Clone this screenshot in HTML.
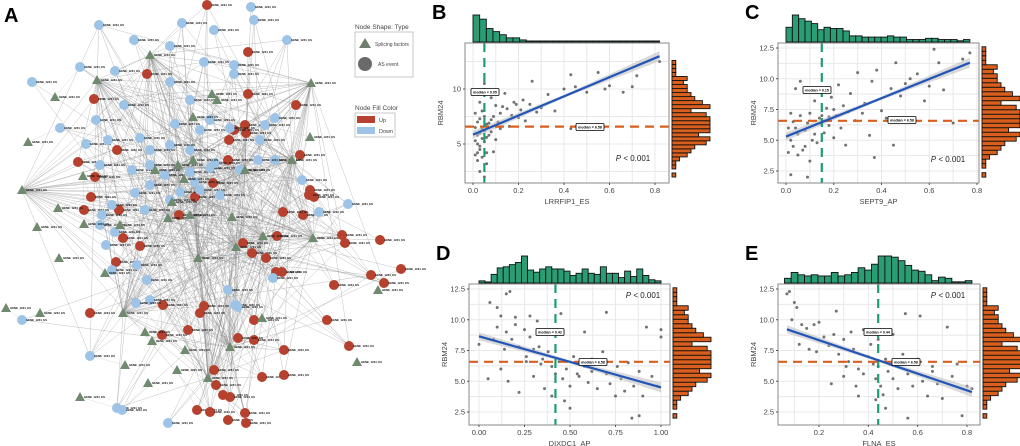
<!DOCTYPE html>
<html><head><meta charset="utf-8">
<style>
html,body{margin:0;padding:0;background:#fff;}
svg{display:block;font-family:"Liberation Sans",Arial,sans-serif;}
</style></head>
<body>
<svg id="fig" width="1020" height="446" viewBox="0 0 1020 446" xmlns="http://www.w3.org/2000/svg">
<g id="net"></g>
<g id="legend">
  <text x="4" y="22" font-size="20" font-weight="bold">A</text>
  <text x="355" y="29" font-size="6.5" fill="#444">Node Shape: Type</text>
  <rect x="355" y="32" width="58" height="45" fill="#fff" stroke="#bbb" stroke-width="0.8"/>
  <polygon points="365,38 359,48 371,48" fill="#6f7f6f"/>
  <text x="375" y="46" font-size="5" fill="#444">Splicing factors</text>
  <circle cx="365" cy="64" r="7" fill="#6a6a6a"/>
  <text x="378" y="66" font-size="5" fill="#444">AS event</text>
  <text x="355" y="110" font-size="6.5" fill="#444">Node Fill Color</text>
  <rect x="355" y="113" width="40" height="24" fill="#fff" stroke="#bbb" stroke-width="0.8"/>
  <rect x="357" y="116" width="18" height="7" fill="#b5412e"/>
  <text x="379" y="122" font-size="5.5" fill="#444">Up</text>
  <rect x="357" y="127" width="18" height="7" fill="#9dc3e6"/>
  <text x="379" y="133" font-size="5.5" fill="#444">Down</text>
</g>
<g id="panels"></g>
</svg>
<script>
const NS="http://www.w3.org/2000/svg";
function mk(tag,attrs,parent){const e=document.createElementNS(NS,tag);for(const k in attrs)e.setAttribute(k,attrs[k]);parent.appendChild(e);return e;}

// ---------- Network data ----------
const upNodes=[[207,5],[248,52],[147,74],[94,99],[296,105],[248,94],[117,150],[78,162],[95,177],[91,197],[84,210],[119,210],[123,238],[140,246],[116,262],[179,215],[213,183],[195,197],[228,160],[245,125],[246,133],[229,140],[234,130],[300,155],[310,190],[314,197],[303,215],[283,212],[277,236],[243,243],[252,253],[276,272],[266,258],[282,272],[309,195],[342,235],[345,243],[380,240],[401,269],[384,283],[371,275],[334,285],[327,320],[254,320],[204,306],[200,313],[163,305],[188,330],[162,335],[90,313],[254,340],[238,338],[214,370],[216,385],[223,395],[230,397],[262,377],[284,375],[197,410],[210,412],[245,413],[228,420],[246,423],[349,346],[284,350]];
const downNodes=[[251,7],[254,20],[99,25],[182,23],[214,30],[134,40],[170,46],[287,40],[80,67],[115,71],[204,62],[234,65],[234,74],[32,82],[124,105],[96,120],[60,128],[86,144],[170,82],[190,100],[175,124],[108,140],[140,138],[200,130],[210,120],[230,128],[275,118],[265,125],[100,165],[132,170],[165,175],[190,172],[150,165],[210,168],[215,163],[190,150],[170,145],[150,150],[100,225],[102,215],[115,232],[106,245],[112,270],[137,265],[147,280],[150,300],[136,303],[228,290],[235,305],[238,307],[302,180],[348,204],[319,212],[22,320],[90,356],[117,408],[122,410],[168,423],[273,278],[275,160],[258,160],[112,205],[180,192],[195,182],[150,185],[170,200],[135,193],[145,210],[200,190],[220,195],[240,170],[260,140]];
const sfNodes=[[150,55],[97,80],[55,97],[212,94],[217,100],[311,83],[28,142],[310,137],[193,117],[178,165],[155,170],[245,170],[292,160],[22,190],[83,176],[58,208],[37,227],[168,218],[120,225],[232,217],[198,258],[236,247],[263,236],[313,238],[59,258],[105,273],[6,308],[40,313],[123,313],[262,318],[378,290],[145,332],[152,341],[185,350],[230,347],[177,370],[208,378],[125,365],[148,383],[80,397],[357,362],[184,179],[84,224],[193,160],[172,202],[190,215]];
const hubIdx=[0,1,20,21,22,23,36,34,9,13,11,12,28,5,17];

const net=document.getElementById('net');
const allTargets=upNodes.concat(downNodes);
const eg=mk('g',{},net);


sfNodes.forEach((s,h)=>{
  const isHub=hubIdx.indexOf(h)>=0;
  allTargets.forEach((t,i)=>{
    const d=Math.hypot(t[0]-s[0],t[1]-s[1]);
    let link;
    if(isHub) link=((i*7+h*3)%4===0)||d<70&&(i+h)%2===0;
    else link=d<55&&((i+h)%3===0);
    if(link){
      mk('line',{x1:s[0],y1:s[1],x2:t[0],y2:t[1],stroke:isHub?'#8a8a8a':'#aaa','stroke-width':0.35,'stroke-opacity':isHub?0.75:0.6},eg);
    }
  });
});
function lab(x,y){const t=mk('text',{x:x+4,y:y+1,'font-size':2.8,'font-weight':'bold',fill:'#111'},net);t.textContent='GENE_1234_ES';

}
upNodes.forEach(p=>{const c=mk('circle',{cx:p[0],cy:p[1],r:5,fill:'#b5412e'},net);

lab(p[0],p[1]);});
downNodes.forEach(p=>{const c=mk('circle',{cx:p[0],cy:p[1],r:5,fill:'#9dc3e6'},net);

lab(p[0],p[1]);});
sfNodes.forEach(p=>{const t=mk('polygon',{points:`${p[0]},${p[1]-5} ${p[0]-5},${p[1]+4} ${p[0]+5},${p[1]+4}`,fill:'#6f8a6f'},net);

lab(p[0],p[1]);});

// ---------- Scatter panel data ----------
const rbmHist=[1,0,1,1,2,4,5,6,9,10,7,10,10,10,10,9,5,10,8,6,5,4,4,3,4,1,1,1,1];
const rbmHistRange=[2.0,12.6];

const bPoints=[[0.01,4],[0.02,3.5],[0.02,5],[0.03,4.5],[0.03,6],[0.04,5.5],[0.01,6.5],[0.02,7],[0.05,7.5],[0.04,8],[0.06,6.8],[0.07,5.8],[0.08,7.2],[0.03,4.8],[0.05,5.2],[0.06,4.2],[0.02,5.8],[0.04,6.4],[0.07,6.9],[0.09,7.5],[0.1,8.5],[0.12,7.8],[0.15,8.2],[0.18,8.8],[0.2,7.4],[0.22,9],[0.25,8.6],[0.28,7.9],[0.3,8.3],[0.33,9.5],[0.36,8],[0.4,10],[0.43,11.3],[0.45,10.2],[0.5,9.7],[0.55,11.5],[0.58,10],[0.6,10.3],[0.66,9.7],[0.7,10.2],[0.72,11.2],[0.82,12.5],[0.03,2.5],[0.05,2],[0.02,9.5],[0.05,10.5],[0.08,9.2],[0.12,6.4],[0.16,6.6],[0.1,5.4],[0.06,3.2],[0.09,4.3],[0.01,7.8],[0.03,8.8],[0.14,9.6],[0.43,6.4],[0.26,10.7],[0.19,8.6],[0.23,7.1],[0.11,7],[0.01,5.3],[0.02,4.2],[0.04,3.8],[0.05,6.2],[0.03,7.3],[0.06,5.6],[0.08,6.1],[0.13,8.4],[0.17,7.6],[0.21,8.1]];
const bHist=[26,22,13,10,7,4,4,2,1,1,1,1,1,1,1,1,1,1,1,1,1,1,1,1,1,1,1,1];
const cPoints=[[0.01,4],[0.02,5],[0.03,4.5],[0.04,6],[0.05,5.5],[0.03,6.5],[0.06,7],[0.07,4.2],[0.08,5.8],[0.09,6.4],[0.1,7.2],[0.11,5],[0.12,8.2],[0.13,4.8],[0.14,6.8],[0.15,9],[0.16,5.6],[0.17,7.6],[0.18,6.2],[0.19,8.5],[0.2,5.2],[0.21,7],[0.22,9.5],[0.23,6],[0.24,7.8],[0.25,4.6],[0.27,8.8],[0.29,6.6],[0.3,10.5],[0.32,7.2],[0.33,8],[0.35,5.4],[0.36,9.8],[0.37,3.6],[0.38,10.7],[0.4,7.4],[0.42,6.8],[0.44,9.2],[0.45,4.6],[0.46,11.3],[0.48,8.6],[0.5,9.6],[0.52,10],[0.55,10.4],[0.58,8.2],[0.6,9.4],[0.62,12.4],[0.64,11.3],[0.66,9.1],[0.7,6.4],[0.74,11.6],[0.77,12.1],[0.02,2.2],[0.09,2],[0.06,9.8],[0.04,9.2],[0.1,3.3],[0.01,6],[0.02,7.2],[0.05,3.8],[0.08,4.5],[0.12,5.5],[0.15,7],[0.18,6.9],[0.2,7.5],[0.26,7.3]];
const cHist=[12,22,19,17,15,10,12,11,11,9,5,5,4,4,4,4,5,4,4,2,2,2,3,3,2,2,2,1,2];
const dPoints=[[0.0,8],[0.06,11.4],[0.1,11],[0.12,10.3],[0.15,12.1],[0.17,12.3],[0.1,9.4],[0.15,9],[0.2,9.6],[0.25,9.2],[0.18,8.4],[0.22,7.8],[0.28,8.6],[0.3,7.6],[0.26,7],[0.33,7.8],[0.35,6.8],[0.38,7.4],[0.4,6.2],[0.42,5.6],[0.44,6.6],[0.46,5.2],[0.48,6],[0.5,4.6],[0.52,7],[0.55,5.4],[0.58,6.2],[0.6,4.9],[0.62,5.8],[0.65,4.4],[0.68,7.4],[0.7,5.6],[0.72,4.8],[0.75,3.8],[0.78,5.2],[0.8,4.2],[0.82,6.5],[0.85,4.6],[0.88,5.8],[0.9,3.8],[0.92,9.4],[0.95,5.4],[0.98,4.6],[1.0,9.2],[1.0,8.6],[0.84,2],[0.88,2.2],[0.5,2.8],[0.47,3.4],[0.4,3.8],[0.32,9.9],[0.28,10.3],[0.2,10.2],[0.12,6],[0.05,5.2],[0.16,5],[0.22,4.1],[0.3,5.4],[0.36,4.4],[0.45,10.5],[0.58,9],[0.62,6.8],[0.7,10.6],[0.76,6.2],[0.54,5.6],[0.34,6.4],[0.26,6.6],[0.14,7.6],[0.08,8.4]];
const dHist=[2,1,8,14,15,17,19,25,12,10,13,15,13,13,11,7,9,13,9,8,15,9,9,5,11,6,13,7,3,2];
const ePoints=[[0.07,12.1],[0.08,12.3],[0.1,11.4],[0.11,11],[0.09,10],[0.13,9.6],[0.15,9.3],[0.18,9.6],[0.2,9.8],[0.22,8.6],[0.12,8],[0.16,7.6],[0.24,7.9],[0.26,8.8],[0.28,7.2],[0.3,8.4],[0.32,6.6],[0.34,7.6],[0.36,6],[0.38,5.6],[0.4,7],[0.42,6.4],[0.43,5.2],[0.44,8.4],[0.45,4.6],[0.46,3.9],[0.47,6.8],[0.48,5.8],[0.5,5.2],[0.52,4.4],[0.54,7.2],[0.55,10.5],[0.56,5.6],[0.58,4.6],[0.6,6.8],[0.62,5],[0.64,3.8],[0.66,6.2],[0.68,4.8],[0.7,3.6],[0.72,9.4],[0.74,5.4],[0.76,6.4],[0.78,2.2],[0.8,4.6],[0.82,4.4],[0.56,2],[0.47,2.8],[0.43,3.5],[0.36,3.8],[0.25,4.8],[0.3,5.4],[0.33,9],[0.38,9.2],[0.27,10.7],[0.61,10.3],[0.5,8.8],[0.41,8],[0.35,4.6],[0.19,7.4],[0.58,6.6],[0.66,5.8],[0.31,6.2],[0.44,6.2]];
const eHist=[4,9,7,6,7,6,6,9,6,7,9,13,11,16,23,23,22,19,15,11,10,7,2,5,4,1,1,2];

const panels=[
 {key:'b',label:'B',box:[465,43,669,183],xv:[0,0.8],xp:[473,655],yv:[5,10],yp:[144,89],xticks:[0,0.2,0.4,0.6,0.8],xfmt:1,yticks:[5,10],yfmt:0,
  xlabel:'LRRFIP1_ES',pts:bPoints,hist:bHist,histRange:[0,0.82],med:0.05,fit:[5.85,8.7],fitRange:[0,0.82],medLab:['median = 0.05',485,92],hLab:['median = 6.58',590,127],pLab:[633,161]},
 {key:'c',label:'C',box:[778,43,979,183],xv:[0,0.8],xp:[786,977],yv:[2.5,12.5],yp:[171,48],xticks:[0,0.2,0.4,0.6,0.8],xfmt:1,yticks:[2.5,5,7.5,10,12.5],yfmt:1,
  xlabel:'SEPT9_AP',pts:cPoints,hist:cHist,histRange:[0,0.77],med:0.15,fit:[5.3,7.8],fitRange:[0,0.77],medLab:['median = 0.15',817,90],hLab:['median = 6.58',902,120],pLab:[948,162]},
 {key:'d',label:'D',box:[469,284,670,425],xv:[0,1],xp:[479,661],yv:[2.5,12.5],yp:[412,289],xticks:[0,0.25,0.5,0.75,1],xfmt:2,yticks:[2.5,5,7.5,10,12.5],yfmt:1,
  xlabel:'DIXDC1_AP',pts:dPoints,hist:dHist,histRange:[0,1],med:0.42,fit:[8.65,-4.15],fitRange:[0,1],medLab:['median = 0.42',550,332],hLab:['median = 6.58',593,362],pLab:[643,298]},
 {key:'e',label:'E',box:[778,284,980,425],xv:[0.2,0.8],xp:[819,967],yv:[2.5,12.5],yp:[412,289],xticks:[0.2,0.4,0.6,0.8],xfmt:1,yticks:[2.5,5,7.5,10,12.5],yfmt:1,
  xlabel:'FLNA_ES',pts:ePoints,hist:eHist,histRange:[0.06,0.82],med:0.44,fit:[9.7,-6.8],fitRange:[0.07,0.82],medLab:['median = 0.44',878,332],hLab:['median = 6.58',906,362],pLab:[948,298]}
];
const medY=6.58;
const root=document.getElementById('panels');

panels.forEach(P=>{
  const g=mk('g',{},root);
  
  
  const sx=v=>P.xp[0]+(v-P.xv[0])*(P.xp[1]-P.xp[0])/(P.xv[1]-P.xv[0]);
  const sy=v=>P.yp[0]+(v-P.yv[0])*(P.yp[1]-P.yp[0])/(P.yv[1]-P.yv[0]);
  const [L,T,R,B]=P.box;
  const lt=mk('text',{x:L-33,y:T-24,'font-size':20,'font-weight':'bold'},g);lt.textContent=P.label;
  
  
  mk('rect',{x:L,y:T,width:R-L,height:B-T,fill:'#fff'},g);
  const cg=mk('g',{},g);
  const xs=P.xticks, dx=xs[1]-xs[0];
  for(let v=xs[0]-dx/2; v<=xs[xs.length-1]+dx; v+=dx/2){const x=sx(v); if(x>L&&x<R) mk('line',{x1:x,x2:x,y1:T,y2:B,stroke:'#e8e8e8','stroke-width':1},cg);}
  const ys=P.yticks, dy=ys.length>1?ys[1]-ys[0]:5;
  for(let v=ys[0]-dy; v<=ys[ys.length-1]+dy; v+=dy/2){const y=sy(v); if(y>T&&y<B) mk('line',{x1:L,x2:R,y1:y,y2:y,stroke:'#e8e8e8','stroke-width':1},cg);}
  P.pts.forEach(p=>{const c=mk('circle',{cx:sx(p[0]),cy:sy(p[1]),r:1.5,fill:'#444','fill-opacity':0.75},g);
    
    });
  const f0=P.fitRange[0],f1=P.fitRange[1];
  const yA=P.fit[0]+P.fit[1]*f0, yB=P.fit[0]+P.fit[1]*f1;
  const band=mk('polygon',{points:`${sx(f0)},${sy(yA)-4} ${sx((f0+f1)/2)},${sy((yA+yB)/2)-1.5} ${sx(f1)},${sy(yB)-5} ${sx(f1)},${sy(yB)+5} ${sx((f0+f1)/2)},${sy((yA+yB)/2)+1.5} ${sx(f0)},${sy(yA)+4}`,fill:'#bbb','fill-opacity':0.55},g);
  
  
  const hl=mk('line',{x1:L,x2:R,y1:sy(medY),y2:sy(medY),stroke:'#d95f1e','stroke-width':2.2,'stroke-dasharray':'9,6'},g);
  
  
  const vl=mk('line',{x1:sx(P.med),x2:sx(P.med),y1:T,y2:B,stroke:'#1b9e77','stroke-width':2.2,'stroke-dasharray':'9,6'},g);
  
  
  const fl=mk('line',{x1:sx(f0),y1:sy(yA),x2:sx(f1),y2:sy(yB),stroke:'#2255b8','stroke-width':2.2},g);
  
  
  mk('rect',{x:L,y:T,width:R-L,height:B-T,fill:'none',stroke:'#888','stroke-width':1},g);
  [P.medLab,P.hLab].forEach((m,i)=>{
    const w=28;
    mk('rect',{x:m[1]-w/2,y:m[2]-3.5,width:w,height:7,fill:'#fff',stroke:'#000','stroke-width':0.8,rx:1},g);
    const t=mk('text',{x:m[1],y:m[2]+1.5,'font-size':3.6,'font-weight':'bold','text-anchor':'middle'},g);t.textContent=m[0];
    
    
  });
  const pt=mk('text',{x:P.pLab[0],y:P.pLab[1],'font-size':8,'text-anchor':'middle',fill:'#222'},g);
  pt.innerHTML='<tspan font-style="italic">P</tspan> &lt; 0.001';
  
  
  P.xticks.forEach(v=>{const x=sx(v);mk('line',{x1:x,x2:x,y1:B,y2:B+2,stroke:'#555'},g);
    const t=mk('text',{x:x,y:B+10,'font-size':7.5,'text-anchor':'middle',fill:'#444'},g);t.textContent=v.toFixed(P.xfmt);
    
    });
  P.yticks.forEach(v=>{const y=sy(v);mk('line',{x1:L-2,x2:L,y1:y,y2:y,stroke:'#555'},g);
    const t=mk('text',{x:L-4,y:y+2.5,'font-size':7.5,'text-anchor':'end',fill:'#444'},g);t.textContent=v.toFixed(P.yfmt);
    
    });
  const xl=mk('text',{x:(L+R)/2,y:B+21,'font-size':7.5,'text-anchor':'middle',fill:'#444'},g);xl.textContent=P.xlabel;
  
  
  const yl=mk('text',{x:0,y:0,'font-size':7.5,'text-anchor':'middle',fill:'#444',transform:`translate(${L-22},${(T+B)/2}) rotate(-90)`},g);yl.textContent='RBM24';
  
  
  const hmax=Math.max(...P.hist), n=P.hist.length, bw=(P.histRange[1]-P.histRange[0])/n;
  P.hist.forEach((c,i)=>{const x0=sx(P.histRange[0]+i*bw),x1=sx(P.histRange[0]+(i+1)*bw),h=c/hmax*27;
    const r=mk('rect',{x:x0,y:T-1-h,width:x1-x0,height:h,fill:'#2a9d74',stroke:'#111','stroke-width':0.9},g);
    
    });
  const rmax=Math.max(...rbmHist), rn=rbmHist.length, rw=(rbmHistRange[1]-rbmHistRange[0])/rn;
  rbmHist.forEach((c,i)=>{const y0=sy(rbmHistRange[0]+i*rw),y1=sy(rbmHistRange[0]+(i+1)*rw),w=c/rmax*38;
    const r=mk('rect',{x:R+3,y:y1,width:w,height:y0-y1,fill:'#d95f1e',stroke:'#111','stroke-width':0.9},g);
    
    });
});
</script>
</body></html>
